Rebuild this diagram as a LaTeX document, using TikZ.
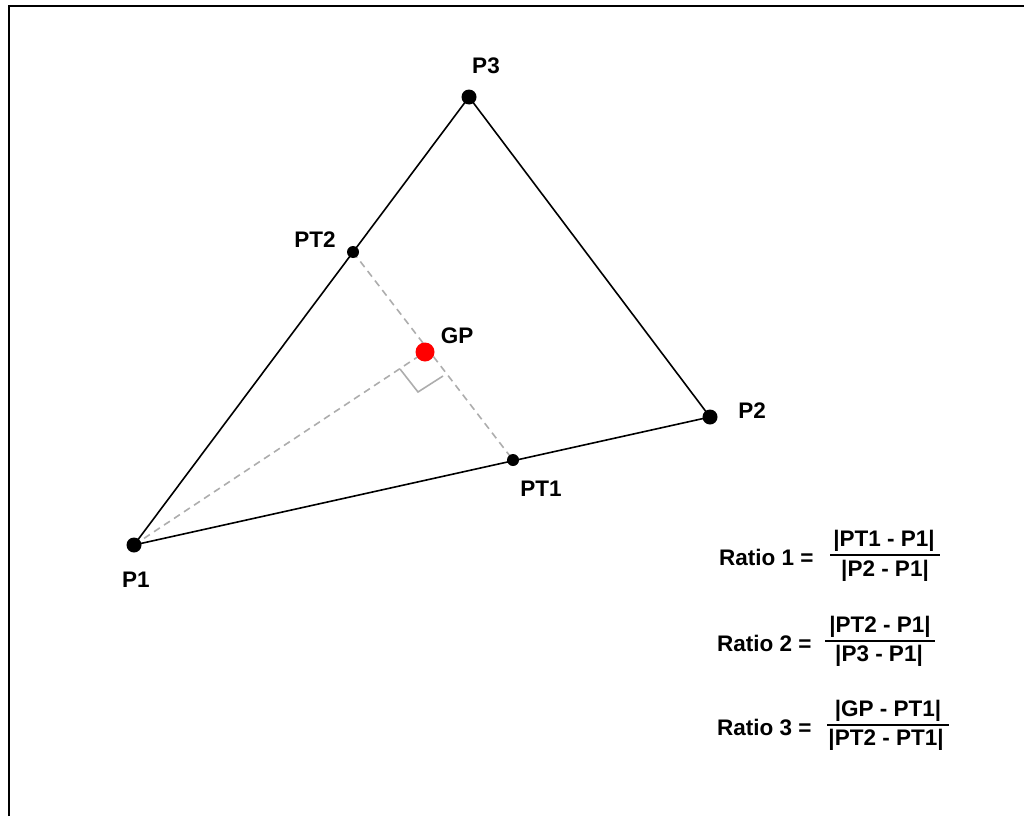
\documentclass[tikz,border=0pt]{standalone}
\usepackage{fontspec}
\setmainfont{Liberation Sans}
\usetikzlibrary{backgrounds}
\tikzset{
  pdot/.style={circle,fill=black,inner sep=0pt,minimum size=15pt},
  ptdot/.style={circle,fill=black,inner sep=0pt,minimum size=12pt},
  gpdot/.style={circle,fill=red,inner sep=0pt,minimum size=19pt},
  lbl/.style={inner sep=0pt,font=\bfseries\fontsize{22.5}{26}\selectfont},
  edge/.style={line width=1.6pt,black},
  helper/.style={line width=1.6pt,color=black!32,dash pattern=on 7pt off 5pt},
  rmark/.style={line width=1.6pt,color=black!32},
  fracbar/.style={line width=1.8pt,black},
}
\begin{document}
\begin{tikzpicture}[x=1pt,y=-1pt]
\useasboundingbox (0,0) rectangle (1024,816);
\draw[line width=2.6pt] (9,816) -- (9,6) -- (1024,6);

% points
\node[pdot] (P1) at (134,545) {};
\node[pdot] (P2) at (710,417) {};
\node[pdot] (P3) at (469,97) {};
\node[ptdot] (PT1) at (513,460) {};
\node[ptdot] (PT2) at (353,252) {};
\node[gpdot] (GP) at (425,352) {};

\coordinate (ra) at (400,369);
\coordinate (rc) at (418,392);
\coordinate (rb) at (443,376);

\begin{pgfonlayer}{background}
\draw[edge] (P1.center) -- (P2.center) -- (P3.center) -- cycle;
\draw[helper] (PT2.center) -- (PT1.center);
\draw[helper] (P1.center) -- (GP.center);
\draw[rmark] (ra) -- (rc) -- (rb);
\end{pgfonlayer}

% labels
\node[lbl] (lP3) at (486,66) {P3};
\node[lbl] (lPT2) at (315,240) {PT2};
\node[lbl] (lGP) at (457,336) {GP};
\node[lbl] (lP2) at (752,411) {P2};
\node[lbl] (lPT1) at (541,489) {PT1};
\node[lbl] (lP1) at (136,580) {P1};

% ratios
\node[lbl,anchor=west] (r1) at (719,557) {Ratio 1 =};
\node[lbl] (r1n) at (884,541) {|PT1 - P1|};
\node[lbl] (r1d) at (885,571) {|P2 - P1|};
\draw[fracbar] (830,555) -- (940,555);

\node[lbl,anchor=west] (r2) at (717,643) {Ratio 2 =};
\node[lbl] (r2n) at (880,627) {|PT2 - P1|};
\node[lbl] (r2d) at (879,656) {|P3 - P1|};
\draw[fracbar] (825,641) -- (935,641);

\node[lbl,anchor=west] (r3) at (717,727) {Ratio 3 =};
\node[lbl] (r3n) at (888,711) {|GP - PT1|};
\node[lbl] (r3d) at (886,740) {|PT2 - PT1|};
\draw[fracbar] (827,725) -- (949,725);
\end{tikzpicture}
\end{document}
